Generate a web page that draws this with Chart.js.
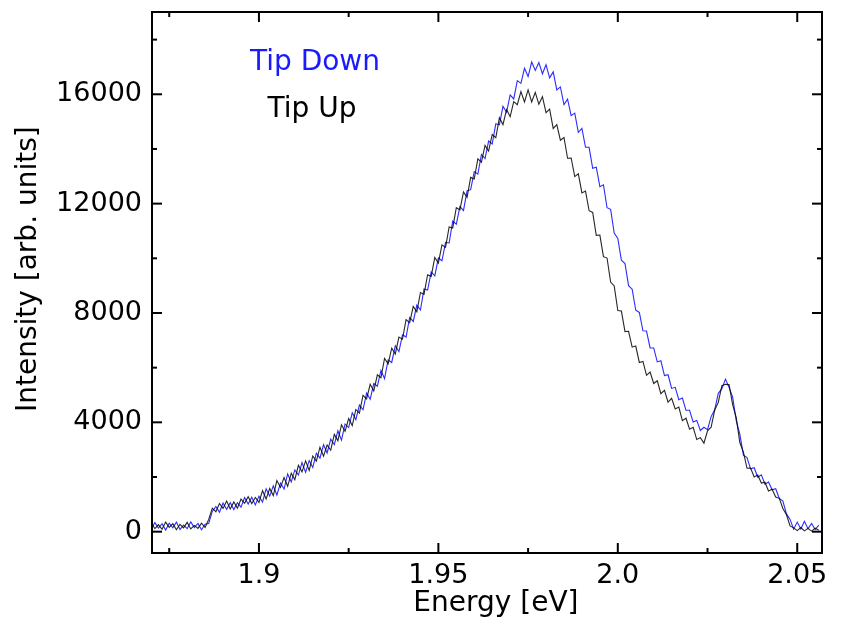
<!DOCTYPE html>
<html>
<head>
<meta charset="utf-8">
<script src="https://cdn.jsdelivr.net/npm/chart.js@4/dist/chart.umd.min.js"></script>
<style>
html,body{margin:0;padding:0;background:#fff;}
canvas{display:block;}
</style>
</head>
<body>
<canvas id="c" width="844" height="630"></canvas>
<script>
// Energy axis (eV)
const energy = [
1.870,1.871,1.872,1.873,1.874,1.875,1.876,1.877,1.878,1.879,
1.880,1.881,1.882,1.883,1.884,1.885,1.886,1.887,1.888,1.889,
1.890,1.891,1.892,1.893,1.894,1.895,1.896,1.897,1.898,1.899,
1.900,1.901,1.902,1.903,1.904,1.905,1.906,1.907,1.908,1.909,
1.910,1.911,1.912,1.913,1.914,1.915,1.916,1.917,1.918,1.919,
1.920,1.921,1.922,1.923,1.924,1.925,1.926,1.927,1.928,1.929,
1.930,1.931,1.932,1.933,1.934,1.935,1.936,1.937,1.938,1.939,
1.940,1.941,1.942,1.943,1.944,1.945,1.946,1.947,1.948,1.949,
1.950,1.951,1.952,1.953,1.954,1.955,1.956,1.957,1.958,1.959,
1.960,1.961,1.962,1.963,1.964,1.965,1.966,1.967,1.968,1.969,
1.970,1.971,1.972,1.973,1.974,1.975,1.976,1.977,1.978,1.979,
1.980,1.981,1.982,1.983,1.984,1.985,1.986,1.987,1.988,1.989,
1.990,1.991,1.992,1.993,1.994,1.995,1.996,1.997,1.998,1.999,
2.000,2.001,2.002,2.003,2.004,2.005,2.006,2.007,2.008,2.009,
2.010,2.011,2.012,2.013,2.014,2.015,2.016,2.017,2.018,2.019,
2.020,2.021,2.022,2.023,2.024,2.025,2.026,2.027,2.028,2.029,
2.030,2.031,2.032,2.033,2.034,2.035,2.036,2.037,2.038,2.039,
2.040,2.041,2.042,2.043,2.044,2.045,2.046,2.047,2.048,2.049,
2.050,2.051,2.052,2.053,2.054,2.055,2.056
];

// Tip Up (black)
const tipUp = [
320,110,260,90,350,160,290,70,270,140,
340,100,230,120,310,150,450,860,730,1030,
850,1120,830,1090,860,1190,1040,1280,1030,1250,
1070,1500,1200,1580,1320,1870,1620,1980,1660,2140,
1900,2430,2190,2590,2240,2770,2580,3090,2760,3170,
2980,3560,3330,3910,3670,4140,3880,4470,4340,4990,
4860,5390,5150,5740,5630,6340,6140,6710,6500,7120,
7040,7760,7640,8240,8040,8750,8680,9400,9340,10030,
9830,10490,10400,11150,11110,11850,11770,12430,12230,12960,
12900,13640,13520,14130,13920,14530,14410,15140,14890,15440,
15180,15730,15620,16100,15720,16160,15720,16070,15640,15910,
15330,15460,14750,14890,14320,14420,13660,13670,12990,13090,
12390,12460,11740,11680,10840,10850,10060,10010,9130,8990,
8090,8070,7320,7330,6750,6790,6190,6230,5720,5840,
5420,5520,5050,5170,4740,4880,4490,4560,4060,4150,
3750,3820,3370,3440,3240,3690,3820,4450,4730,5340,
5390,5380,4650,4170,3260,2910,2320,2330,2000,2070,
1780,1810,1490,1550,1270,1220,850,620,210,140,
40,150,30,120,20,130,50
];

// Tip Down (blue)
const tipDown = [
100,330,130,290,60,310,140,350,80,240,
110,360,150,300,70,270,300,740,920,710,
1050,820,1060,810,1060,900,1250,1010,1260,980,
1300,1080,1570,1300,1680,1340,1780,1560,2110,1820,
2260,2070,2530,2170,2600,2350,2870,2690,3180,2880,
3390,3180,3690,3350,3940,3810,4350,4100,4630,4460,
5070,4840,5420,5320,5900,5600,6280,6190,6800,6590,
7200,7120,7840,7690,8290,8110,8880,8840,9500,9360,
10010,9910,10580,10560,11360,11250,11890,11750,12470,12510,
13170,13080,13800,13650,14290,14180,14920,14880,15560,15340,
15980,15830,16500,16400,16950,16650,17180,16870,17160,16750,
17080,16600,16820,16160,16270,15620,15820,15220,15310,14610,
14750,14060,14060,13290,13330,12620,12690,11850,11790,10920,
10730,9930,9810,9000,8870,8100,8020,7350,7340,6720,
6720,6210,6250,5710,5740,5240,5280,4830,4890,4440,
4440,4010,4070,3700,3820,3730,4210,4460,5060,5230,
5580,5280,4920,4060,3570,2800,2710,2300,2340,1990,
2080,1740,1820,1530,1570,1220,1120,650,450,90,
350,100,380,110,300,80,240
];

// Tick values and labels
const xTicks = [1.9, 1.95, 2.0, 2.05];
const xTickLabels = ['1.9', '1.95', '2.0', '2.05'];
const xMinorTicks = [1.875, 1.925, 1.975, 2.025];
const yTicks = [0, 4000, 8000, 12000, 16000];
const yTickLabels = ['0', '4000', '8000', '12000', '16000'];
const yMinorTicks = [2000, 6000, 10000, 14000, 18000];
const seriesNames = ['Tip Up', 'Tip Down'];

const FONT = '"DejaVu Sans", Verdana, sans-serif';

const toPts = vals => vals.map((v, i) => ({x: energy[i], y: v}));

const framePlugin = {
  id: 'frame',
  afterDatasetsDraw(chart) {
    const {ctx, chartArea: {left, right, top, bottom}, scales: {x, y}} = chart;
    ctx.save();
    ctx.strokeStyle = '#000';
    ctx.lineWidth = 2;
    ctx.strokeRect(left, top, right - left, bottom - top);
    const seg = (x1, y1, x2, y2) => { ctx.beginPath(); ctx.moveTo(x1, y1); ctx.lineTo(x2, y2); ctx.stroke(); };
    xTicks.forEach(v => { const p = x.getPixelForValue(v); seg(p, bottom, p, bottom - 10); seg(p, top, p, top + 10); });
    xMinorTicks.forEach(v => { const p = x.getPixelForValue(v); seg(p, bottom, p, bottom - 5); seg(p, top, p, top + 5); });
    yTicks.forEach(v => { const p = y.getPixelForValue(v); seg(left, p, left + 10, p); seg(right, p, right - 10, p); });
    yMinorTicks.forEach(v => { const p = y.getPixelForValue(v); seg(left, p, left + 5, p); seg(right, p, right - 5, p); });
    ctx.restore();
  }
};

const legendPlugin = {
  id: 'textLegend',
  afterDraw(chart) {
    const {ctx} = chart;
    ctx.save();
    ctx.font = '28px ' + FONT;
    ctx.textAlign = 'center';
    ctx.textBaseline = 'alphabetic';
    ctx.fillStyle = '#1a1aff';
    ctx.fillText(seriesNames[1], 315, 70);
    ctx.fillStyle = '#000';
    ctx.fillText(seriesNames[0], 312, 117);
    ctx.restore();
  }
};

new Chart(document.getElementById('c'), {
  type: 'line',
  data: {
    datasets: [
      {label: seriesNames[0], data: toPts(tipUp), borderColor: 'rgba(0,0,0,0.85)', borderWidth: 1.1, pointRadius: 0, tension: 0, fill: false},
      {label: seriesNames[1], data: toPts(tipDown), borderColor: 'rgba(20,20,255,0.9)', borderWidth: 1.1, pointRadius: 0, tension: 0, fill: false}
    ]
  },
  options: {
    responsive: false,
    devicePixelRatio: 1,
    animation: false,
    layout: {padding: {top: 12, right: 22, left: 0, bottom: 0}},
    plugins: {legend: {display: false}, tooltip: {enabled: false}},
    scales: {
      x: {
        type: 'linear',
        min: 1.8702,
        max: 2.0569,
        grid: {display: false, drawTicks: false},
        border: {display: false},
        afterBuildTicks: s => { s.ticks = xTicks.map(v => ({value: v})); },
        afterFit: s => { s.height = 77; s.paddingLeft = 0; s.paddingRight = 0; },
        ticks: {
          padding: 7,
          color: '#000',
          font: {family: FONT, size: 27},
          maxRotation: 0,
          autoSkip: false,
          callback: (v) => { const i = xTicks.findIndex(t => Math.abs(t - v) < 1e-9); return i >= 0 ? xTickLabels[i] : ''; }
        },
        title: {display: true, text: '\u00a0\u00a0Energy [eV]', color: '#000', font: {family: FONT, size: 28}, padding: {top: 0, bottom: 9}}
      },
      y: {
        type: 'linear',
        min: -780,
        max: 19010,
        grid: {display: false, drawTicks: false},
        border: {display: false},
        afterBuildTicks: s => { s.ticks = yTicks.map(v => ({value: v})); },
        afterFit: s => { s.width = 152; s.paddingTop = 0; s.paddingBottom = 0; },
        ticks: {
          padding: 10,
          color: '#000',
          font: {family: FONT, size: 27},
          autoSkip: false,
          callback: (v) => { const i = yTicks.indexOf(v); return i >= 0 ? yTickLabels[i] : ''; }
        },
        title: {display: true, text: '\u00a0\u00a0\u00a0Intensity [arb. units]', color: '#000', font: {family: FONT, size: 28}, padding: {top: 12, bottom: 0}}
      }
    }
  },
  plugins: [framePlugin, legendPlugin]
});
</script>
</body>
</html>
